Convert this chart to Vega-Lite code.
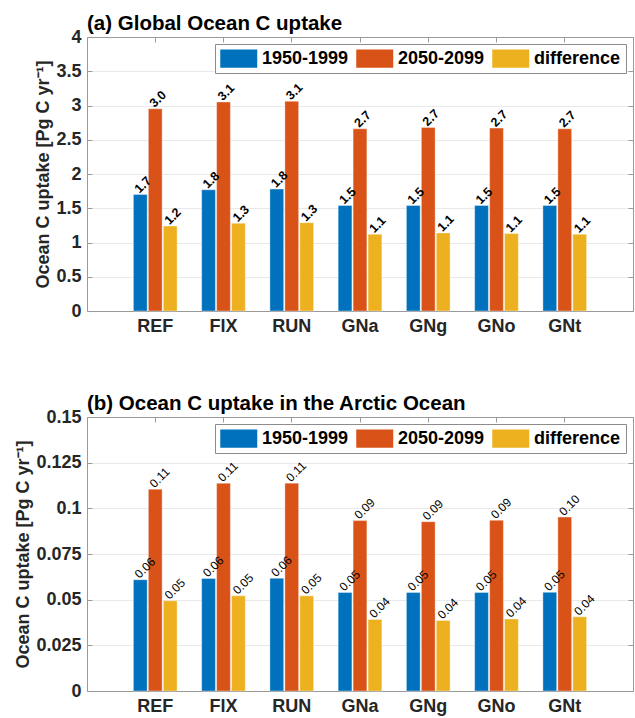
{
  "$schema": "https://vega.github.io/schema/vega-lite/v6.json",
  "background": "white",
  "padding": {"left": 14, "right": 1, "top": 13, "bottom": 5},
  "bounds": "flush",
  "spacing": 106,
  "config": {
    "font": "Liberation Sans",
    "view": {"stroke": null},
    "axis": {
      "labelFont": "Liberation Sans",
      "labelFontWeight": "bold",
      "labelFontSize": 18,
      "labelColor": "#262626",
      "domainColor": "#9a9a9a",
      "tickColor": "#9a9a9a",
      "tickSize": -5,
      "titleFont": "Liberation Sans",
      "titleFontSize": 18,
      "titleFontWeight": "bold",
      "titleColor": "#262626",
      "gridColor": "#e9e9e9"
    },
    "title": {"font": "Liberation Sans", "fontSize": 20.5, "fontWeight": "bold", "color": "black", "anchor": "start", "frame": "group", "offset": -6}
  },
  "datasets": {
    "global": [
      {"model": "REF", "period": "1950-1999", "value": 1.70},
      {"model": "REF", "period": "2050-2099", "value": 2.952},
      {"model": "REF", "period": "difference", "value": 1.24},
      {"model": "FIX", "period": "1950-1999", "value": 1.77},
      {"model": "FIX", "period": "2050-2099", "value": 3.052},
      {"model": "FIX", "period": "difference", "value": 1.28},
      {"model": "RUN", "period": "1950-1999", "value": 1.78},
      {"model": "RUN", "period": "2050-2099", "value": 3.062},
      {"model": "RUN", "period": "difference", "value": 1.29},
      {"model": "GNa", "period": "1950-1999", "value": 1.54},
      {"model": "GNa", "period": "2050-2099", "value": 2.66},
      {"model": "GNa", "period": "difference", "value": 1.12},
      {"model": "GNg", "period": "1950-1999", "value": 1.54},
      {"model": "GNg", "period": "2050-2099", "value": 2.68},
      {"model": "GNg", "period": "difference", "value": 1.14},
      {"model": "GNo", "period": "1950-1999", "value": 1.54},
      {"model": "GNo", "period": "2050-2099", "value": 2.67},
      {"model": "GNo", "period": "difference", "value": 1.13},
      {"model": "GNt", "period": "1950-1999", "value": 1.54},
      {"model": "GNt", "period": "2050-2099", "value": 2.66},
      {"model": "GNt", "period": "difference", "value": 1.12}
    ],
    "arctic": [
      {"model": "REF", "period": "1950-1999", "value": 0.0609},
      {"model": "REF", "period": "2050-2099", "value": 0.1105},
      {"model": "REF", "period": "difference", "value": 0.0494},
      {"model": "FIX", "period": "1950-1999", "value": 0.0616},
      {"model": "FIX", "period": "2050-2099", "value": 0.1137},
      {"model": "FIX", "period": "difference", "value": 0.0521},
      {"model": "RUN", "period": "1950-1999", "value": 0.0617},
      {"model": "RUN", "period": "2050-2099", "value": 0.1138},
      {"model": "RUN", "period": "difference", "value": 0.0521},
      {"model": "GNa", "period": "1950-1999", "value": 0.0539},
      {"model": "GNa", "period": "2050-2099", "value": 0.0933},
      {"model": "GNa", "period": "difference", "value": 0.0392},
      {"model": "GNg", "period": "1950-1999", "value": 0.0539},
      {"model": "GNg", "period": "2050-2099", "value": 0.0927},
      {"model": "GNg", "period": "difference", "value": 0.0386},
      {"model": "GNo", "period": "1950-1999", "value": 0.0539},
      {"model": "GNo", "period": "2050-2099", "value": 0.0935},
      {"model": "GNo", "period": "difference", "value": 0.0394},
      {"model": "GNt", "period": "1950-1999", "value": 0.0540},
      {"model": "GNt", "period": "2050-2099", "value": 0.0952},
      {"model": "GNt", "period": "difference", "value": 0.0406}
    ]
  },
  "vconcat": [
    {
      "width": 546,
      "height": 274,
      "title": {"text": "(a) Global Ocean C uptake"},
      "data": {"name": "global"},
      "layer": [
        {
          "mark": {"type": "bar", "stroke": "white", "strokeWidth": 0.8, "strokeOpacity": 0.45},
          "encoding": {
            "x": {"field": "model", "type": "nominal", "sort": ["REF", "FIX", "RUN", "GNa", "GNg", "GNo", "GNt"], "scale": {"paddingInner": 0.36, "paddingOuter": 0.68}, "axis": {"orient": "bottom", "title": null, "labelAngle": 0, "labelPadding": 11}},
            "xOffset": {"field": "period", "type": "nominal", "sort": ["1950-1999", "2050-2099", "difference"], "scale": {"paddingInner": 0.08, "paddingOuter": 0}},
            "y": {"field": "value", "type": "quantitative", "scale": {"domain": [0, 4], "nice": false, "zero": true}, "axis": {"orient": "left", "title": "Ocean C uptake [Pg C yr⁻¹]", "values": [0, 0.5, 1, 1.5, 2, 2.5, 3, 3.5, 4], "labelExpr": "'' + datum.value", "grid": true, "labelPadding": 11, "titlePadding": 3}},
            "color": {"field": "period", "type": "nominal", "scale": {"domain": ["1950-1999", "2050-2099", "difference"], "range": ["#0072BD", "#D95319", "#EDB120"]}, "legend": {"title": null, "orient": "top-right", "offset": 7, "direction": "horizontal", "symbolType": "M-1,-1H3V1H-1Z", "symbolSize": 342, "symbolStrokeWidth": 0, "symbolOpacity": 1, "labelFont": "Liberation Sans", "labelFontSize": 18, "labelFontWeight": "bold", "labelColor": "black", "labelOffset": 23, "columnPadding": 7, "strokeColor": "#8c8c8c", "fillColor": "white", "padding": 5}}
          }
        },
        {
          "mark": {"type": "text", "angle": 315, "align": "left", "baseline": "alphabetic", "dx": 0, "dy": -1, "fontSize": 12.5, "fontWeight": "bold", "color": "black"},
          "encoding": {
            "x": {"field": "model", "type": "nominal", "sort": ["REF", "FIX", "RUN", "GNa", "GNg", "GNo", "GNt"], "axis": {"orient": "top", "title": null, "labels": false, "grid": false}},
            "xOffset": {"field": "period", "type": "nominal", "sort": ["1950-1999", "2050-2099", "difference"]},
            "y": {"field": "value", "type": "quantitative", "axis": {"orient": "right", "title": null, "labels": false, "grid": false, "values": [0, 0.5, 1, 1.5, 2, 2.5, 3, 3.5, 4]}},
            "text": {"field": "value", "type": "quantitative", "format": ".1f"}
          }
        }
      ],
      "resolve": {"axis": {"x": "independent", "y": "independent"}}
    },
    {
      "width": 546,
      "height": 274,
      "title": {"text": "(b) Ocean C uptake in the Arctic Ocean"},
      "data": {"name": "arctic"},
      "layer": [
        {
          "mark": {"type": "bar", "stroke": "white", "strokeWidth": 0.8, "strokeOpacity": 0.45},
          "encoding": {
            "x": {"field": "model", "type": "nominal", "sort": ["REF", "FIX", "RUN", "GNa", "GNg", "GNo", "GNt"], "scale": {"paddingInner": 0.36, "paddingOuter": 0.68}, "axis": {"orient": "bottom", "title": null, "labelAngle": 0, "labelPadding": 11}},
            "xOffset": {"field": "period", "type": "nominal", "sort": ["1950-1999", "2050-2099", "difference"], "scale": {"paddingInner": 0.08, "paddingOuter": 0}},
            "y": {"field": "value", "type": "quantitative", "scale": {"domain": [0, 0.15], "nice": false, "zero": true}, "axis": {"orient": "left", "title": "Ocean C uptake [Pg C yr⁻¹]", "values": [0, 0.025, 0.05, 0.075, 0.1, 0.125, 0.15], "labelExpr": "'' + datum.value", "grid": true, "labelPadding": 11, "titlePadding": 3}},
            "color": {"field": "period", "type": "nominal", "scale": {"domain": ["1950-1999", "2050-2099", "difference"], "range": ["#0072BD", "#D95319", "#EDB120"]}, "legend": {"title": null, "orient": "top-right", "offset": 7, "direction": "horizontal", "symbolType": "M-1,-1H3V1H-1Z", "symbolSize": 342, "symbolStrokeWidth": 0, "symbolOpacity": 1, "labelFont": "Liberation Sans", "labelFontSize": 18, "labelFontWeight": "bold", "labelColor": "black", "labelOffset": 23, "columnPadding": 7, "strokeColor": "#8c8c8c", "fillColor": "white", "padding": 5}}
          }
        },
        {
          "mark": {"type": "text", "angle": 315, "align": "left", "baseline": "alphabetic", "dx": 0, "dy": -1, "fontSize": 12, "color": "black"},
          "encoding": {
            "x": {"field": "model", "type": "nominal", "sort": ["REF", "FIX", "RUN", "GNa", "GNg", "GNo", "GNt"], "axis": {"orient": "top", "title": null, "labels": false, "grid": false}},
            "xOffset": {"field": "period", "type": "nominal", "sort": ["1950-1999", "2050-2099", "difference"]},
            "y": {"field": "value", "type": "quantitative", "axis": {"orient": "right", "title": null, "labels": false, "grid": false, "values": [0, 0.025, 0.05, 0.075, 0.1, 0.125, 0.15]}},
            "text": {"field": "value", "type": "quantitative", "format": ".2f"}
          }
        }
      ],
      "resolve": {"axis": {"x": "independent", "y": "independent"}}
    }
  ],
  "resolve": {"scale": {"color": "independent"}, "legend": {"color": "independent"}}
}
